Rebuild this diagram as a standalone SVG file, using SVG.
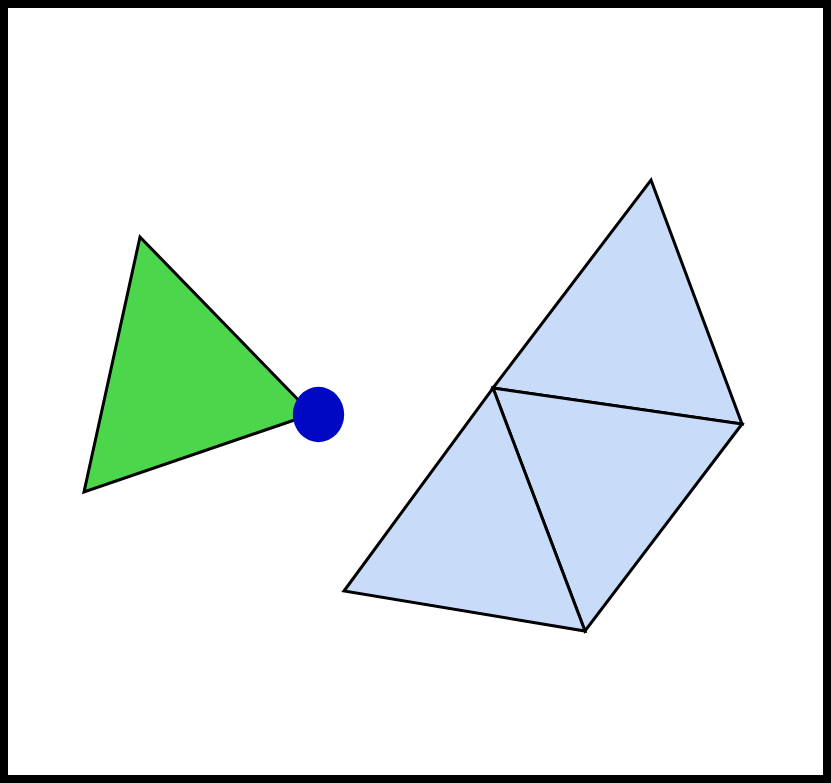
<svg xmlns="http://www.w3.org/2000/svg" width="831" height="783" viewBox="0 0 831 783">
<style>
.tri{fill:#c8dcfa;stroke:#000;stroke-width:3;stroke-linejoin:miter}
.g{fill:#4cd64c;stroke:#000;stroke-width:3;stroke-linejoin:miter}
</style>
<rect x="4" y="4" width="823" height="775" fill="#fff" stroke="#000" stroke-width="8"/>
<g id="green-triangle">
<polygon class="g" points="140,237 84,492 312,414"/>
</g>
<g id="dot">
<ellipse cx="318.5" cy="414.5" rx="25.7" ry="27.7" fill="#0008c4"/>
</g>
<g id="blue-triangles">
<polygon class="tri" points="651,180 742,424 493,388"/>
<polygon class="tri" points="493,388 742,424 585,631"/>
<polygon class="tri" points="493,388 585,631 344,591"/>
</g>
</svg>
